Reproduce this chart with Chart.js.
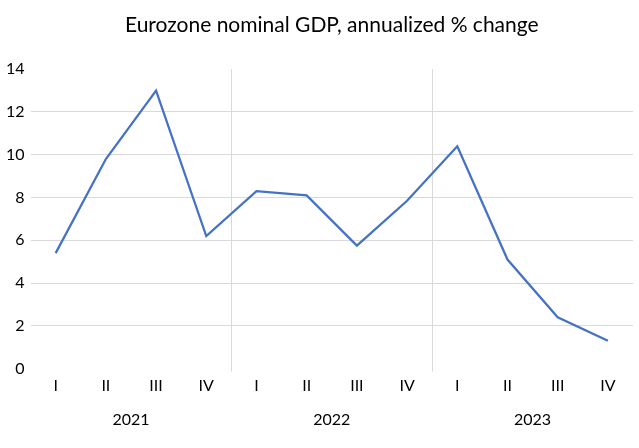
<!DOCTYPE html>
<html>
<head>
<meta charset="utf-8">
<script src="https://cdn.jsdelivr.net/npm/chart.js@4"></script>
<style>
  html, body { margin: 0; padding: 0; background: #fff; }
  #wrap { width: 639px; height: 448px; }
</style>
</head>
<body>
<div id="wrap"><canvas id="c" width="639" height="448"></canvas></div>
<script>
const quarters = ['I','II','III','IV','I','II','III','IV','I','II','III','IV'];
const years = ['2021','2022','2023'];
const gdpChange = [5.4, 9.8, 13.0, 6.2, 8.3, 8.1, 5.75, 7.85, 10.4, 5.1, 2.4, 1.3];
const yTicks = { min: 0, max: 14, step: 2 };
const titleText = 'Eurozone nominal GDP, annualized % change';

const FONT = 'Lato, "Open Sans", sans-serif';

new Chart(document.getElementById('c'), {
  type: 'line',
  data: {
    labels: quarters,
    datasets: [{
      data: gdpChange,
      borderColor: '#4472C4',
      borderWidth: 2.25,
      pointRadius: 0,
      tension: 0,
      fill: false,
      xAxisID: 'x'
    }]
  },
  options: {
    responsive: false,
    animation: false,
    devicePixelRatio: 1,
    layout: { padding: { left: 0, right: 6, top: 0, bottom: 10 } },
    plugins: {
      legend: { display: false },
      tooltip: { enabled: false },
      title: {
        display: true,
        fullSize: false,
        text: titleText,
        color: '#000',
        font: { family: FONT, size: 21, weight: 'normal' },
        padding: { top: 13, bottom: 31 }
      }
    },
    scales: {
      x: {
        type: 'category',
        position: 'bottom',
        offset: true,
        border: { display: false },
        grid: {
          offset: true,
          drawTicks: true,
          tickLength: 3,
          color: (ctx) => (ctx.index === 4 || ctx.index === 8) ? '#d9d9d9' : 'rgba(0,0,0,0)',
          lineWidth: 1
        },
        ticks: {
          color: '#000',
          font: { family: FONT, size: 16 },
          padding: 5,
          maxRotation: 0,
          autoSkip: false
        }
      },
      x2: {
        type: 'category',
        position: 'bottom',
        labels: years,
        offset: true,
        border: { display: false },
        grid: { display: false, drawTicks: false },
        ticks: {
          color: '#000',
          font: { family: FONT, size: 16 },
          padding: 9,
          maxRotation: 0,
          autoSkip: false
        }
      },
      y: {
        min: yTicks.min,
        max: yTicks.max,
        border: { display: false },
        grid: {
          drawTicks: false,
          color: (ctx) => (ctx.tick && (ctx.tick.value === yTicks.min || ctx.tick.value === yTicks.max)) ? 'rgba(0,0,0,0)' : '#d9d9d9',
          lineWidth: 1
        },
        ticks: {
          stepSize: yTicks.step,
          color: '#000',
          font: { family: FONT, size: 16 },
          padding: 6
        }
      }
    }
  }
});
</script>
</body>
</html>
